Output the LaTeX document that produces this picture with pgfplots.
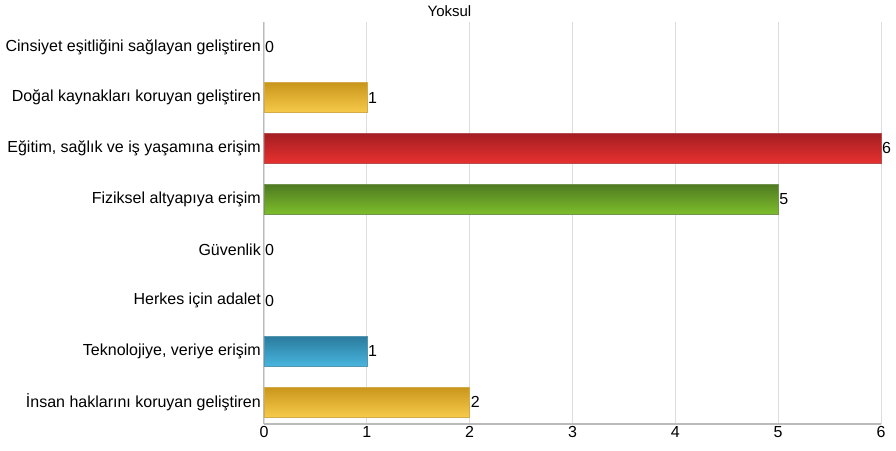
\documentclass[border=0pt]{standalone}
\usepackage{pgfplots}
\pgfplotsset{compat=1.18}
\usepackage{fontspec}
\setmainfont{Liberation Sans}
\definecolor{gridc}{HTML}{DDDDDD}
\definecolor{axisc}{HTML}{BBBBBB}
\definecolor{goldT}{HTML}{C9961C}
\definecolor{goldB}{HTML}{F7CA4A}
\definecolor{redT}{HTML}{A31F22}
\definecolor{redB}{HTML}{E8302F}
\definecolor{greenT}{HTML}{4E7A22}
\definecolor{greenB}{HTML}{7EBE2B}
\definecolor{blueT}{HTML}{2B7C9E}
\definecolor{blueB}{HTML}{48B5DE}
\begin{document}
\begin{tikzpicture}[x=1pt,y=1pt]
\begin{axis}[
  at={(0,0)}, anchor=south west,
  scale only axis,
  width=617pt, height=402pt,
  xmin=0, xmax=6,
  ymin=-0.43, ymax=7.49,
  xtick={0,1,2,3,4,5,6},
  ytick={0,1,2,3,4,5,6,7},
  yticklabels={{İnsan haklarını koruyan geliştiren},{Teknolojiye, veriye erişim},{Herkes için adalet},{Güvenlik},{Fiziksel altyapıya erişim},{Eğitim, sağlık ve iş yaşamına erişim},{Doğal kaynakları koruyan geliştiren},{Cinsiyet eşitliğini sağlayan geliştiren}},
  tick style={draw=none},
  major tick length=0pt,
  xmajorgrids,
  grid style={gridc, line width=0.8pt},
  axis line style={axisc},
  axis x line*=bottom,
  axis y line*=left,
  x axis line style={line width=1.6pt, -},
  y axis line style={line width=1pt, -},
  /pgf/number format/assume math mode=true,
  ticklabel style={font=\fontsize{16}{18}\selectfont},
  xticklabel style={yshift=-1pt, inner sep=1pt},
  yticklabel style={inner sep=2pt, xshift=-1pt},
  xbar, bar width=30pt, bar shift=0pt,
  nodes near coords,
  nodes near coords style={font=\fontsize{16}{18}\selectfont, black, inner sep=1pt},
  title={Yoksul},
  title style={font=\fontsize{15}{17}\selectfont, yshift=-4pt, xshift=-123pt},
  clip=false,
]
\addplot[draw=goldT!80, top color=goldT, bottom color=goldB] coordinates {(1,6)};
\addplot[draw=redT!80, top color=redT, bottom color=redB] coordinates {(6,5)};
\addplot[draw=greenT!80, top color=greenT, bottom color=greenB] coordinates {(5,4)};
\addplot[draw=blueT!80, top color=blueT, bottom color=blueB] coordinates {(1,1)};
\addplot[draw=goldT!80, top color=goldT, bottom color=goldB] coordinates {(2,0)};
\addplot[draw=none, fill=none] coordinates {(0,7) (0,3) (0,2)};
\end{axis}
\pgfresetboundingbox
\path (-264pt,-26pt) rectangle (632pt,424pt);
\end{tikzpicture}
\end{document}
